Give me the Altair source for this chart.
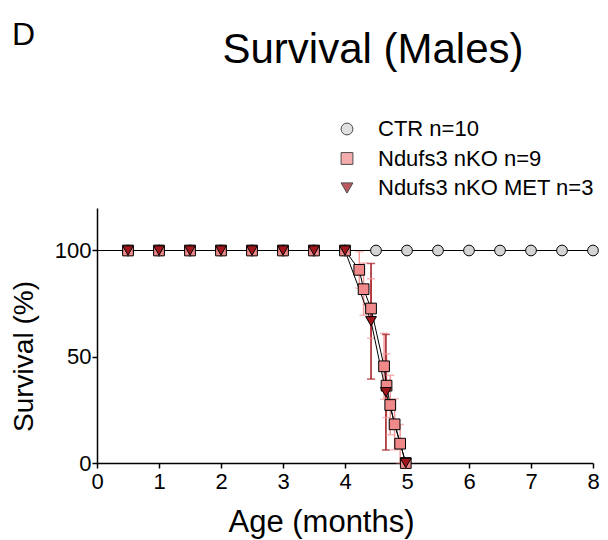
import altair as alt
import pandas as pd

# ---- data ----
series_names = ["CTR n=10", "Ndufs3 nKO n=9", "Ndufs3 nKO MET n=3"]

ctr_age = [0, 0.5, 1, 1.5, 2, 2.5, 3, 3.5, 4, 4.5, 5, 5.5, 6, 6.5, 7, 7.5, 8]
ctr_surv = [100] * 17

nko_age = [0, 0.5, 1, 1.5, 2, 2.5, 3, 3.5, 4, 4.23, 4.30, 4.42, 4.63, 4.67, 4.73, 4.80, 4.89, 4.98]
nko_surv = [100, 100, 100, 100, 100, 100, 100, 100, 100, 90.9, 81.8, 72.7, 45.5, 36.4, 27.3, 18.2, 9.1, 0]
nko_err = [0, 0, 0, 0, 0, 0, 0, 0, 0, 8.6, 12.3, 14.0, 15.5, 15.0, 14.0, 12.0, 9.0, 0]

met_age = [0, 0.5, 1, 1.5, 2, 2.5, 3, 3.5, 4, 4.42, 4.66, 4.98]
met_surv = [100, 100, 100, 100, 100, 100, 100, 100, 100, 66.7, 33.3, 0]
met_err = [0, 0, 0, 0, 0, 0, 0, 0, 0, 27.2, 27.2, 0]

x_ticks = [0, 1, 2, 3, 4, 5, 6, 7, 8]
y_ticks = [0, 50, 100]

title_text = "Survival (Males)"
panel_letter = "D"

# ---- styles ----
FONT = "Liberation Sans"
fill_colors = ["#d4d4d4", "#f08a8a", "#a0161c"]
err_colors = {"Ndufs3 nKO n=9": "#f29a9a", "Ndufs3 nKO MET n=3": "#a0161c"}
shapes = ["circle", "square", "triangle-down"]

rows = []
for name, ages, survs, errs in [
    (series_names[0], ctr_age, ctr_surv, [0] * len(ctr_age)),
    (series_names[1], nko_age, nko_surv, nko_err),
    (series_names[2], met_age, met_surv, met_err),
]:
    for i, (a, s, e) in enumerate(zip(ages, survs, errs)):
        rows.append({"series": name, "age": a, "surv": s, "err": e,
                     "order": series_names.index(name), "idx": i})
df = pd.DataFrame(rows)
df["lo"] = df["surv"] - df["err"]
df["hi"] = df["surv"] + df["err"]
df_pts = df[df["age"] > 0]
df_err = df[df["err"] > 0].copy()
df_err["ecol"] = df_err["series"].map(err_colors)

xscale = alt.Scale(domain=[0, 8], nice=False)
yscale = alt.Scale(domain=[0, 120], nice=False)

xax = alt.Axis(values=x_ticks, format="d", title="Age (months)", grid=False, labelFontSize=22,
               titleFontSize=31, titleFontWeight="normal", labelFont=FONT, titleFont=FONT,
               domainColor="black", tickColor="black", labelColor="black", titleColor="black",
               domainWidth=1.5, tickWidth=1.5, tickSize=5, labelPadding=3, labelFlush=False,
               titleX=224, titleY=68, titleBaseline="alphabetic", titleAlign="center")
yax = alt.Axis(values=y_ticks, title="Survival (%)", grid=False, labelFontSize=22,
               titleFontSize=28, titleFontWeight="normal", labelFont=FONT, titleFont=FONT,
               domainColor="black", tickColor="black", labelColor="black", titleColor="black",
               domainWidth=1.5, tickWidth=1.5, tickSize=5, labelPadding=1, labelFlush=False,
               titleX=-65, titleY=148, titleBaseline="alphabetic", titleAlign="center",
               titleAngle=270)

base_err = alt.Chart(df_err)
err_rule = base_err.mark_rule(strokeWidth=1.5).encode(
    x=alt.X("age:Q", scale=xscale, axis=xax),
    y=alt.Y("lo:Q", scale=yscale, axis=yax),
    y2="hi:Q",
    color=alt.Color("ecol:N", scale=None),
)
cap_lo = base_err.mark_tick(orient="horizontal", size=8, thickness=1.5).encode(
    x="age:Q", y="lo:Q", color=alt.Color("ecol:N", scale=None))
cap_hi = base_err.mark_tick(orient="horizontal", size=8, thickness=1.5).encode(
    x="age:Q", y="hi:Q", color=alt.Color("ecol:N", scale=None))

lines = alt.Chart(df).mark_line(color="black", strokeWidth=1).encode(
    x="age:Q", y="surv:Q", detail="series:N", order="idx:Q")

points = alt.Chart(df_pts).mark_point(filled=True, size=115, stroke="black",
                                      strokeWidth=1, opacity=1).encode(
    x="age:Q", y="surv:Q",
    color=alt.Color("series:N", sort=series_names,
                    scale=alt.Scale(domain=series_names, range=fill_colors),
                    legend=alt.Legend(title=None, orient="none", legendX=239, legendY=-90,
                                      labelFontSize=22, labelFont=FONT, labelColor="black",
                                      symbolSize=140, symbolStrokeColor="black",
                                      symbolStrokeWidth=1, symbolOpacity=1, rowPadding=7.5,
                                      labelOffset=20, padding=0, labelLimit=400)),
    shape=alt.Shape("series:N", sort=series_names,
                    scale=alt.Scale(domain=series_names, range=shapes)),
    order=alt.Order("order:Q"),
)

letter = alt.Chart(pd.DataFrame({"t": [panel_letter]})).mark_text(
    fontSize=32, font=FONT, align="left", baseline="alphabetic", color="black").encode(
    text="t:N", x=alt.value(-85), y=alt.value(-163))

title_mark = alt.Chart(pd.DataFrame({"t": [title_text]})).mark_text(
    fontSize=42, font=FONT, align="center", baseline="alphabetic", color="black").encode(
    text="t:N", x=alt.value(276), y=alt.value(-145))

chart = alt.layer(err_rule, cap_lo, cap_hi, lines, points, letter, title_mark).properties(
    width=496, height=255,
    autosize=alt.AutoSizeParams(type="none"),
    padding={"left": 89, "top": 200, "right": 7, "bottom": 77},
).configure_view(stroke=None)

chart.save("out.html", embed_options={"renderer": "svg", "actions": False})
